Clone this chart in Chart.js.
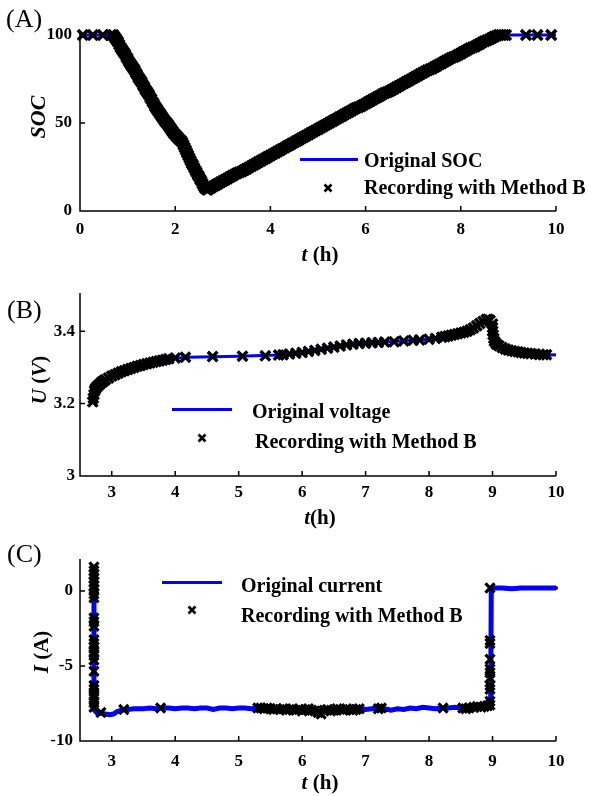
<!DOCTYPE html>
<html><head><meta charset="utf-8">
<script src="https://cdn.jsdelivr.net/npm/chart.js@4/dist/chart.umd.min.js"></script>
<style>
html,body{margin:0;padding:0;background:#fff;}
body{width:593px;height:796px;position:relative;overflow:hidden;font-family:"Liberation Serif","Times New Roman",serif;color:#000;}
canvas{position:absolute;left:0;}
.t{position:absolute;white-space:nowrap;font-size:20px;line-height:20px;font-weight:bold;}
.p{position:absolute;white-space:nowrap;font-size:26px;line-height:26px;font-weight:normal;}
.ax{position:absolute;white-space:nowrap;font-size:21px;line-height:21px;font-weight:bold;}
.rot{transform:translate(-50%,-50%) rotate(-90deg);}
.hc{transform:translate(-50%,-50%);}
.ln{position:absolute;height:3px;background:#0000ff;}
svg{position:absolute;}
</style>
</head><body>
<canvas id="cA"></canvas>
<canvas id="cB"></canvas>
<canvas id="cC"></canvas>

<div class="p" style="left:6px;top:6px;">(A)</div>
<div class="p" style="left:7px;top:297px;">(B)</div>
<div class="p" style="left:7px;top:541px;">(C)</div>

<div class="ax rot" style="left:37px;top:117px;font-size:22px;"><i>SOC</i></div>
<div class="ax rot" style="left:39px;top:380px;"><i>U</i> (<i>V</i>)</div>
<div class="ax rot" style="left:41px;top:652px;"><i>I</i> (A)</div>
<div class="ax hc" style="left:320px;top:254px;"><i>t</i> (h)</div>
<div class="ax hc" style="left:320px;top:517px;"><i>t</i>(h)</div>
<div class="ax hc" style="left:320px;top:782px;"><i>t</i> (h)</div>

<div class="ln" style="left:300px;top:158px;width:58px;"></div>
<div class="t" style="left:364px;top:150px;">Original SOC</div>
<svg style="left:323px;top:183px" width="10" height="10"><path d="M1.5 1.5L8.5 8.5M8.5 1.5L1.5 8.5" stroke="#000" stroke-width="2.6"/></svg>
<div class="t" style="left:364px;top:177px;">Recording with Method B</div>

<div class="ln" style="left:172px;top:408px;width:60px;"></div>
<div class="t" style="left:252px;top:401px;">Original voltage</div>
<svg style="left:197px;top:433px" width="10" height="10"><path d="M1.5 1.5L8.5 8.5M8.5 1.5L1.5 8.5" stroke="#000" stroke-width="2.6"/></svg>
<div class="t" style="left:255px;top:431px;">Recording with Method B</div>

<div class="ln" style="left:162px;top:581px;width:60px;"></div>
<div class="t" style="left:241px;top:575px;">Original current</div>
<svg style="left:187px;top:605px" width="10" height="10"><path d="M1.5 1.5L8.5 8.5M8.5 1.5L1.5 8.5" stroke="#000" stroke-width="2.6"/></svg>
<div class="t" style="left:241px;top:605px;">Recording with Method B</div>

<script>
// ---------- Tick labels ----------
const xTicksA = [0, 2, 4, 6, 8, 10];
const yTicksA = [0, 50, 100];
const xTicksBC = [3, 4, 5, 6, 7, 8, 9, 10];
const yTicksB = [3, 3.2, 3.4];
const yTicksC = [-10, -5, 0];

// ---------- (A) SOC ----------
const socLineT = [0, 0.7, 1.63, 2.12, 2.65, 6.0, 7.4, 8.8, 10];
const socLineV = [100, 100, 57, 40, 12.5, 61, 81, 100, 100];
// recorded points: flat start, discharge, charge, flat end
const socRecT = [0.06, 0.27, 0.48, 0.65,
  0.700, 0.725, 0.750, 0.775, 0.800, 0.825, 0.850, 0.875, 0.900, 0.925, 0.950, 0.975, 1.000, 1.025, 1.050, 1.075,
  1.100, 1.125, 1.150, 1.175, 1.200, 1.225, 1.250, 1.275, 1.300, 1.325, 1.350, 1.375, 1.400, 1.425, 1.450, 1.475,
  1.500, 1.525, 1.550, 1.575, 1.600, 1.625, 1.650, 1.675, 1.700, 1.725, 1.750, 1.775, 1.800, 1.825, 1.850, 1.875,
  1.900, 1.925, 1.950, 1.975, 2.000, 2.025, 2.050, 2.075, 2.100, 2.125, 2.150, 2.175, 2.200, 2.225, 2.250, 2.275,
  2.300, 2.325, 2.350, 2.375, 2.400, 2.425, 2.450, 2.475, 2.500, 2.525, 2.550, 2.575, 2.600, 2.625, 2.650, 2.675, 2.700,
  2.75, 2.80, 2.85, 2.90, 2.95, 3.00, 3.05, 3.10, 3.15, 3.20, 3.25, 3.30, 3.35, 3.40, 3.45, 3.50, 3.55, 3.60,
  3.65, 3.70, 3.75, 3.80, 3.85, 3.90, 3.95, 4.00, 4.05, 4.10, 4.15, 4.20, 4.25, 4.30, 4.35, 4.40, 4.45, 4.50,
  4.55, 4.60, 4.65, 4.70, 4.75, 4.80, 4.85, 4.90, 4.95, 5.00, 5.05, 5.10, 5.15, 5.20, 5.25, 5.30, 5.35, 5.40,
  5.45, 5.50, 5.55, 5.60, 5.65, 5.70, 5.75, 5.80, 5.85, 5.90, 5.95, 6.00, 6.05, 6.10, 6.15, 6.20, 6.25, 6.30,
  6.35, 6.40, 6.45, 6.50, 6.55, 6.60, 6.65, 6.70, 6.75, 6.80, 6.85, 6.90, 6.95, 7.00, 7.05, 7.10, 7.15, 7.20,
  7.25, 7.30, 7.35, 7.40, 7.45, 7.50, 7.55, 7.60, 7.65, 7.70, 7.75, 7.80, 7.85, 7.90, 7.95, 8.00, 8.05, 8.10,
  8.15, 8.20, 8.25, 8.30, 8.35, 8.40, 8.45, 8.50, 8.55, 8.60, 8.65, 8.70, 8.75, 8.80, 8.85, 8.90, 8.95,
  9.37, 9.61, 9.90];
const socRecV = [100, 100, 100, 100,
  100, 99, 98, 97, 96, 94.5, 93, 92, 91, 90, 89, 87.5, 86.5, 85, 84, 83,
  82, 81, 80, 78.5, 77.5, 76, 75, 74, 73, 71.5, 70.5, 69, 68, 67, 66, 64.5,
  63.5, 62, 61, 59.5, 58.5, 57.5, 56.5, 55.5, 54.5, 53.5, 52.5, 51.5, 50.5, 50, 49, 48,
  47, 46, 45, 44, 43.5, 42.5, 42, 41, 40.5, 40, 39, 37.5, 36, 34.5, 33, 31.5,
  30, 28.5, 27, 26, 24.5, 23, 22, 20.5, 19.5, 18, 17, 15.5, 14, 13, 12.5, 12, 12.5,
  13.2, 14, 14.8, 15.5, 16.3, 17, 17.8, 18.5, 19.3, 20, 20.8, 21.5, 22, 22.5, 23.3, 24, 24.8, 25.5,
  26.3, 27, 27.8, 28.5, 29.3, 30, 30.8, 31.5, 32.3, 33, 33.8, 34.5, 35.3, 36, 36.8, 37.5, 38.3, 39,
  39.8, 40.5, 41.3, 42, 42.8, 43.5, 44.3, 45, 45.8, 46.5, 47.3, 48, 48.8, 49.5, 50.3, 51, 51.8, 52.5,
  53.3, 54, 54.8, 55.5, 56.3, 57, 57.8, 58.5, 59, 59.5, 60.3, 61, 61.8, 62.5, 63.3, 64, 64.8, 65.5,
  66.3, 67, 67.5, 68, 68.8, 69.5, 70.3, 71, 71.8, 72.5, 73.3, 74, 74.8, 75.5, 76.3, 77, 77.8, 78.5,
  79.3, 80, 80.5, 81, 81.8, 82.5, 83.3, 84, 84.8, 85.5, 86.3, 87, 87.5, 88, 88.8, 89.5, 90.3, 91,
  91.8, 92.5, 93, 93.5, 94.3, 95, 95.8, 96.5, 97, 97.5, 98.3, 99, 99.5, 100, 100, 100, 100,
  100, 100, 100];

// ---------- (B) Voltage ----------
const uLineT = [2.7, 2.75, 3.0, 3.5, 3.9, 4.2, 5.0, 5.6, 6.0, 6.5, 7.0, 7.5, 8.0, 8.5, 8.75, 8.93, 9.0, 9.05, 9.3, 9.6, 10];
const uLineV = [3.205, 3.243, 3.276, 3.308, 3.324, 3.328, 3.331, 3.334, 3.341, 3.356, 3.367, 3.372, 3.378, 3.395, 3.415, 3.433, 3.40, 3.366, 3.346, 3.338, 3.334];
const uRecT = [2.70, 2.71, 2.72, 2.73, 2.74, 2.75, 2.775, 2.80, 2.825, 2.85, 2.875, 2.90, 2.95, 3.00, 3.05, 3.10, 3.15, 3.20, 3.25,
  3.30, 3.35, 3.40, 3.45, 3.50, 3.55, 3.60, 3.65, 3.70, 3.75, 3.80, 3.85, 3.90, 4.00, 4.16, 4.59, 5.06, 5.42, 5.63,
  5.7, 5.8, 5.9, 6.0, 6.1, 6.2, 6.3, 6.4, 6.5, 6.6, 6.7, 6.8, 6.9, 7.0, 7.1, 7.2, 7.3,
  7.45, 7.6, 7.75, 7.85, 8.0, 8.1, 8.2,
  8.25, 8.3, 8.35, 8.4, 8.45, 8.5, 8.55, 8.6, 8.65, 8.7, 8.75, 8.8, 8.85, 8.9, 8.93, 8.96,
  9.0, 9.0, 9.0, 9.01, 9.02, 9.03, 9.06, 9.1, 9.15, 9.2, 9.25, 9.3, 9.35, 9.4, 9.45, 9.5, 9.55, 9.6,
  9.67, 9.74, 9.8, 9.85];
const uRecV = [3.205, 3.215, 3.225, 3.235, 3.24, 3.243, 3.248, 3.252, 3.256, 3.26, 3.263, 3.266, 3.271, 3.276, 3.28, 3.284, 3.288, 3.291, 3.294,
  3.297, 3.300, 3.303, 3.305, 3.308, 3.310, 3.312, 3.314, 3.316, 3.318, 3.320, 3.322, 3.324, 3.326, 3.328, 3.330, 3.331, 3.332, 3.334,
  3.335, 3.337, 3.339, 3.341, 3.344, 3.347, 3.350, 3.353, 3.356, 3.359, 3.362, 3.364, 3.366, 3.367, 3.368, 3.369, 3.370,
  3.371, 3.373, 3.375, 3.376, 3.378, 3.380, 3.383,
  3.385, 3.387, 3.389, 3.391, 3.393, 3.395, 3.397, 3.400, 3.404, 3.409, 3.415, 3.421, 3.427, 3.432, 3.433, 3.430,
  3.42, 3.41, 3.40, 3.39, 3.38, 3.372, 3.365, 3.36, 3.355, 3.351, 3.348, 3.346, 3.344, 3.343, 3.341, 3.340, 3.339, 3.338,
  3.337, 3.336, 3.335, 3.335];

// ---------- (C) Current ----------
const iLineT = [2.72, 2.72, 2.76, 2.82, 2.9, 2.97, 3.03, 3.08, 3.15, 3.25, 3.35, 3.5, 3.6, 3.7, 3.8, 3.9,
  4.0, 4.1, 4.2, 4.3, 4.4, 4.5, 4.6, 4.7, 4.8, 4.9, 5.0, 5.1, 5.2, 5.3, 5.4, 5.5, 5.6, 5.7, 5.8, 5.9,
  6.0, 6.1, 6.2, 6.3, 6.4, 6.5, 6.6, 6.7, 6.8, 6.9, 7.0, 7.1, 7.2, 7.3, 7.4, 7.5, 7.6, 7.7, 7.8, 7.9,
  8.0, 8.1, 8.2, 8.3, 8.4, 8.5, 8.6, 8.7, 8.8, 8.9, 8.97, 8.98, 9.15, 9.3, 9.45, 9.6, 9.8, 10];
const iLineV = [1.5, -7.9, -8.1, -8.15, -8.2, -8.25, -8.2, -8.05, -7.95, -7.9, -7.85, -7.85, -7.8, -7.85, -7.8, -7.8,
  -7.85, -7.8, -7.8, -7.85, -7.8, -7.8, -7.9, -7.8, -7.8, -7.85, -7.8, -7.8, -7.85, -7.8, -7.85, -7.9, -7.85, -7.9, -7.85, -7.95,
  -7.9, -7.85, -7.95, -8.05, -7.9, -7.95, -7.85, -7.9, -7.85, -7.8, -7.9, -7.85, -7.8, -7.85, -7.95, -7.85, -7.9, -7.8, -7.85, -7.75,
  -7.8, -7.85, -7.8, -7.8, -7.75, -7.8, -7.75, -7.7, -7.75, -7.7, -7.6, 0.2, 0.2, 0.15, 0.2, 0.2, 0.2, 0.2];
const iRecT = [2.72, 2.72, 2.72, 2.72, 2.72, 2.72, 2.72, 2.72, 2.72, 2.72, 2.72, 2.72, 2.72, 2.72, 2.72, 2.72, 2.72, 2.72,
  2.72, 2.72, 2.72, 2.72, 2.72, 2.72, 2.72,
  2.83, 3.19, 3.77,
  5.30, 5.35, 5.40, 5.45, 5.50, 5.55, 5.60, 5.65, 5.70, 5.75, 5.80, 5.85, 5.90, 5.95, 6.00, 6.05, 6.10,
  6.15, 6.20, 6.25, 6.30, 6.35, 6.40, 6.45, 6.50, 6.55, 6.60, 6.65, 6.70, 6.75, 6.80, 6.85, 6.90,
  7.2, 7.25, 8.22, 8.53, 8.58, 8.63, 8.7, 8.76, 8.82, 8.87, 8.92,
  8.96, 8.96, 8.96, 8.96, 8.96, 8.96, 8.96, 8.96, 8.96, 8.96, 8.96];
const iRecV = [1.6, 1.35, 1.1, 0.85, 0.6, 0.35, 0.1, -0.2, -0.45, -1.8, -2.05, -2.35, -3.25, -3.5, -3.75, -4.05, -4.3, -4.6,
  -5.35, -6.3, -6.55, -6.9, -7.15, -7.45, -7.75,
  -8.1, -7.9, -7.8,
  -7.8, -7.8, -7.85, -7.8, -7.85, -7.9, -7.85, -7.9, -7.85, -7.95, -7.9, -7.85, -7.95, -7.9, -8.0, -7.9, -7.85,
  -7.95, -8.0, -8.1, -8.2, -7.95, -7.9, -8.0, -7.95, -7.85, -7.9, -7.95, -7.85, -7.9, -7.95, -7.9, -7.85,
  -7.85, -7.8, -7.8, -7.8, -7.85, -7.8, -7.75, -7.7, -7.75, -7.7, -7.65,
  -7.6, -7.35, -6.55, -6.3, -5.8, -5.45, -5.2, -4.55, -3.5, -3.3, 0.2];

// ---------- helpers ----------
const pts = (t, v) => t.map((x, i) => ({x: x, y: v[i]}));
const tickFont = {family: "'Liberation Serif', 'Times New Roman', serif", size: 17, weight: 'bold'};

const axesPlugin = {
  id: 'axesPlugin',
  beforeDatasetsDraw(chart) {
    const {ctx, chartArea: a, scales: {x, y}} = chart;
    ctx.save();
    ctx.strokeStyle = '#000';
    ctx.lineWidth = 1.5;
    ctx.beginPath();
    ctx.moveTo(a.left, a.top - 2);
    ctx.lineTo(a.left, a.bottom);
    ctx.lineTo(a.right, a.bottom);
    x.ticks.forEach(t => { const p = x.getPixelForValue(t.value); ctx.moveTo(p, a.bottom); ctx.lineTo(p, a.bottom - 5); });
    y.ticks.forEach(t => { const p = y.getPixelForValue(t.value); ctx.moveTo(a.left, p); ctx.lineTo(a.left + 5, p); });
    ctx.stroke();
    ctx.restore();
  }
};

function lineDs(data, w, r) {
  return {data, showLine: true, borderColor: '#0000ff', backgroundColor: '#0000ff', borderWidth: w,
    pointRadius: r, pointHoverRadius: 0, pointBorderWidth: 0, tension: 0, order: 1, clip: false};
}
function crossDs(data, r, w) {
  return {data, showLine: false, pointStyle: 'crossRot', pointRadius: r, pointBorderWidth: w,
    borderColor: '#000', backgroundColor: '#000', pointHoverRadius: 0, order: 0, clip: false};
}

function panel(id, top, height, padTop, xMin, xMax, xTicks, yMin, yMax, yTicks, xPad, yPad, datasets) {
  const cv = document.getElementById(id);
  cv.width = 593; cv.height = height;
  cv.style.width = '593px'; cv.style.height = height + 'px';
  cv.style.top = top + 'px';
  return new Chart(cv, {
    type: 'scatter',
    data: {datasets},
    options: {
      responsive: false, animation: false, devicePixelRatio: 1,
      layout: {padding: {left: 0, right: 37, top: padTop, bottom: 0}},
      plugins: {legend: {display: false}, tooltip: {enabled: false}},
      scales: {
        x: {type: 'linear', min: xMin, max: xMax,
          afterBuildTicks: s => { s.ticks = xTicks.map(v => ({value: v})); },
          afterFit: s => { s.height = 40; },
          grid: {display: false, drawTicks: false}, border: {display: false},
          ticks: {padding: xPad, font: tickFont, color: '#000', maxRotation: 0, autoSkip: false, callback: v => String(v)}},
        y: {type: 'linear', min: yMin, max: yMax,
          afterBuildTicks: s => { s.ticks = yTicks.map(v => ({value: v})); },
          afterFit: s => { s.width = 80; },
          grid: {display: false, drawTicks: false}, border: {display: false},
          ticks: {padding: yPad, font: tickFont, color: '#000', autoSkip: false, callback: v => String(v)}}
      }
    },
    plugins: [axesPlugin]
  });
}

panel('cA', 0, 251, 35, 0, 10, xTicksA, 0, 100, yTicksA, 8, 8,
  [crossDs(pts(socRecT, socRecV), 7, 3.6), lineDs(pts(socLineT, socLineV), 3, 0)]);
panel('cB', 260, 256, 35, 2.5, 10, xTicksBC, 3, 3.5, yTicksB, 6, 5,
  [crossDs(pts(uRecT, uRecV), 6.8, 3.4), lineDs(pts(uLineT, uLineV), 3, 0)]);
panel('cC', 530, 251, 31, 2.5, 10, xTicksBC, -10, 2, yTicksC, 10, 7,
  [crossDs(pts(iRecT, iRecV), 6.4, 3.2), lineDs(pts(iLineT, iLineV), 5, 2)]);
</script>
</body></html>
